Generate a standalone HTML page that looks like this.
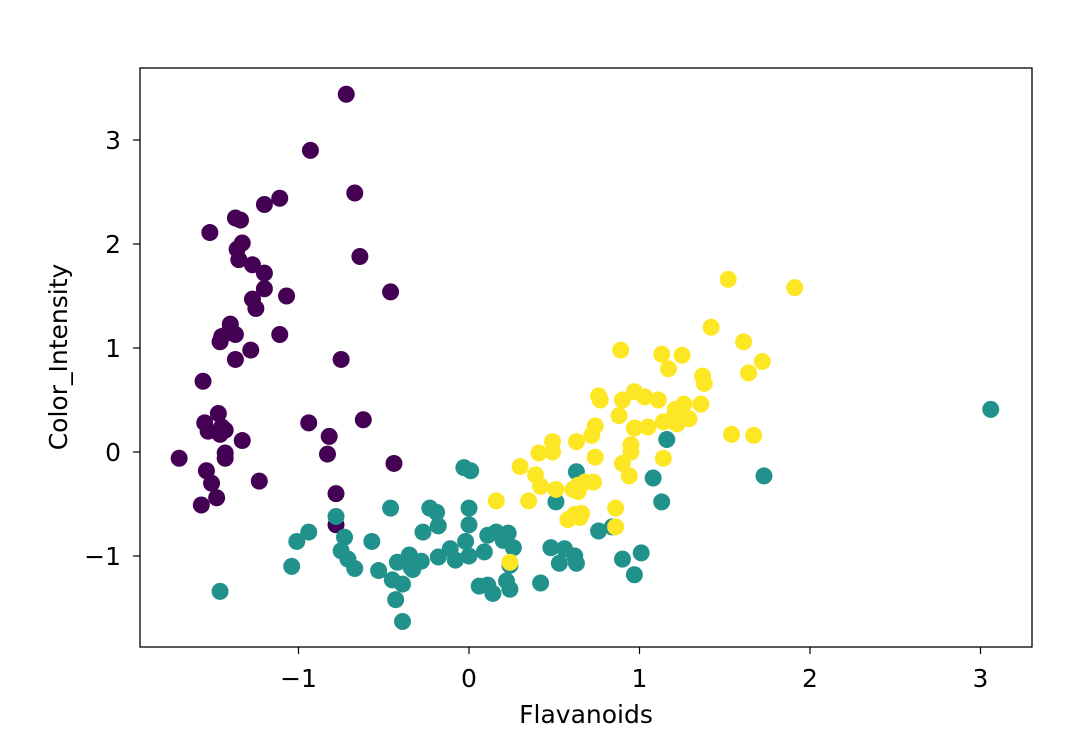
<!DOCTYPE html>
<html><head><meta charset="utf-8"><style>
body{margin:0;background:#fff;}
svg{display:block;font-family:"DejaVu Sans","Liberation Sans",sans-serif;}
</style></head><body>
<svg id="chart" width="1070" height="740">
<rect x="0" y="0" width="1070" height="740" fill="#fff"/>
<g id="marks"></g>
<rect x="140" y="68" width="892" height="579" fill="none" stroke="#000" stroke-width="1.3"/>
<g id="axes"></g>
<text x="586" y="723" text-anchor="middle" font-size="25">Flavanoids</text>
<text transform="translate(67,357) rotate(-90)" text-anchor="middle" font-size="25">Color_Intensity</text>
</svg>
<script>
const xTicks=[-1,0,1,2,3];
const yTicks=[-1,0,1,2,3];
const class0X=[-0.72,-0.93,-0.67,-1.37,-1.34,-1.20,-1.11,-1.52,-1.33,-1.36,-1.35,-1.27,-1.20,-1.20,-0.64,-1.07,-0.46,-1.27,-1.25,-1.40,-1.41,-1.37,-1.45,-1.46,-1.11,-1.28,-1.37,-0.75,-1.56,-1.47,-1.55,-1.45,-1.53,-1.43,-1.46,-1.33,-0.94,-0.62,-0.82,-1.70,-1.43,-1.43,-0.83,-0.44,-1.54,-1.51,-1.23,-1.48,-1.57,-0.78,-0.78];
const class0Y=[3.44,2.90,2.49,2.25,2.23,2.38,2.44,2.11,2.01,1.95,1.85,1.80,1.72,1.57,1.88,1.50,1.54,1.47,1.38,1.23,1.15,1.13,1.11,1.06,1.13,0.98,0.89,0.89,0.68,0.37,0.28,0.24,0.20,0.21,0.17,0.11,0.28,0.31,0.15,-0.06,-0.01,-0.06,-0.02,-0.11,-0.18,-0.30,-0.28,-0.44,-0.51,-0.40,-0.70];
const class1X=[-1.46,-1.04,-1.01,-0.94,-0.78,-0.73,-0.75,-0.71,-0.67,-0.57,-0.53,-0.46,-0.45,-0.43,-0.42,-0.39,-0.39,-0.35,-0.33,-0.34,-0.28,-0.27,-0.23,-0.19,-0.18,-0.18,-0.11,-0.08,-0.03,0.01,0.00,0.00,-0.02,0.00,0.06,0.11,0.09,0.11,0.14,0.16,0.20,0.22,0.24,0.24,0.23,0.26,0.42,0.48,0.51,0.53,0.56,0.63,0.62,0.63,0.76,0.84,0.90,0.97,1.01,1.08,1.13,1.16,1.73,3.06];
const class1Y=[-1.34,-1.10,-0.86,-0.77,-0.62,-0.82,-0.95,-1.03,-1.12,-0.86,-1.14,-0.54,-1.23,-1.42,-1.06,-1.27,-1.63,-0.99,-1.13,-1.11,-1.05,-0.77,-0.54,-0.58,-0.71,-1.01,-0.93,-1.04,-0.15,-0.18,-0.54,-0.70,-0.86,-1.00,-1.29,-1.28,-0.96,-0.80,-1.36,-0.77,-0.85,-1.24,-1.09,-1.32,-0.78,-0.92,-1.26,-0.92,-0.48,-1.07,-0.93,-0.19,-1.00,-1.07,-0.76,-0.72,-1.03,-1.18,-0.97,-0.25,-0.48,0.12,-0.23,0.41];
const class2X=[1.52,1.91,1.42,1.61,0.89,1.13,1.25,1.72,1.17,1.64,1.37,1.38,0.97,0.76,0.77,0.90,1.11,1.03,1.36,1.26,1.21,0.88,1.20,1.29,1.14,1.22,0.74,0.97,1.05,0.72,1.54,1.67,0.63,0.49,0.95,0.49,0.95,0.41,0.74,0.90,1.14,0.30,0.39,0.94,0.42,0.68,0.64,0.73,0.51,0.64,0.61,0.16,0.35,0.86,0.62,0.66,0.58,0.65,0.86,0.24];
const class2Y=[1.66,1.58,1.20,1.06,0.98,0.94,0.93,0.87,0.80,0.76,0.73,0.66,0.58,0.54,0.50,0.50,0.50,0.53,0.46,0.46,0.41,0.35,0.33,0.32,0.29,0.27,0.25,0.23,0.24,0.16,0.17,0.16,0.10,0.10,0.07,0.00,0.00,-0.01,-0.05,-0.11,-0.06,-0.14,-0.22,-0.23,-0.33,-0.29,-0.32,-0.29,-0.36,-0.38,-0.36,-0.47,-0.47,-0.54,-0.60,-0.59,-0.65,-0.63,-0.72,-1.06];
const classColors=["#440154","#21918c","#fde725"];
const NS="http://www.w3.org/2000/svg";
function sx(v){return 469+v*170.5;}
function sy(v){return 452-v*104;}
const marks=document.getElementById('marks');
const series=[[class0X,class0Y],[class1X,class1Y],[class2X,class2Y]];
series.forEach((s,ci)=>{
  s[0].forEach((xv,i)=>{
    const c=document.createElementNS(NS,'circle');
    c.setAttribute('cx',sx(xv));c.setAttribute('cy',sy(s[1][i]));
    c.setAttribute('r',8.5);c.setAttribute('fill',classColors[ci]);
    
    
    marks.appendChild(c);
  });
});
const axes=document.getElementById('axes');
function lbl(v){return v<0?'\u2212'+Math.abs(v):String(v);}
xTicks.forEach(t=>{
  const l=document.createElementNS(NS,'line');
  l.setAttribute('x1',sx(t));l.setAttribute('x2',sx(t));l.setAttribute('y1',647);l.setAttribute('y2',654);l.setAttribute('stroke','#000');l.setAttribute('stroke-width','1.2');
  
  
  axes.appendChild(l);
  const tx=document.createElementNS(NS,'text');
  tx.setAttribute('x',sx(t));tx.setAttribute('y',687);tx.setAttribute('text-anchor','middle');tx.setAttribute('font-size','25');
  tx.textContent=lbl(t);
  
  
  axes.appendChild(tx);
});
yTicks.forEach(t=>{
  const l=document.createElementNS(NS,'line');
  l.setAttribute('x1',133);l.setAttribute('x2',140);l.setAttribute('y1',sy(t));l.setAttribute('y2',sy(t));l.setAttribute('stroke','#000');l.setAttribute('stroke-width','1.2');
  
  
  axes.appendChild(l);
  const tx=document.createElementNS(NS,'text');
  tx.setAttribute('x',121);tx.setAttribute('y',sy(t)+9);tx.setAttribute('text-anchor','end');tx.setAttribute('font-size','25');
  tx.textContent=lbl(t);
  
  
  axes.appendChild(tx);
});
</script>
</body></html>
